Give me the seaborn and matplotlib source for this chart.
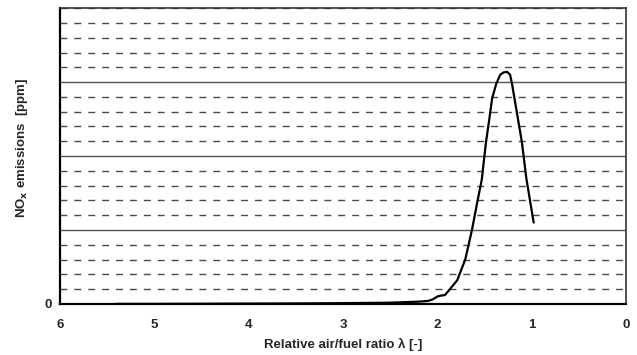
import matplotlib
matplotlib.use("Agg")
import matplotlib.pyplot as plt
from matplotlib.ticker import MultipleLocator, FixedFormatter, FixedLocator
import seaborn as sns
import pandas as pd

# relative air/fuel ratio (lambda) and NOx emissions in ppm
lam = [5.4, 5.0, 4.5, 4.0, 3.5, 3.0, 2.5, 2.2, 2.1, 2.05, 2.0, 1.97, 1.92, 1.88,
       1.79, 1.705, 1.634, 1.58, 1.53, 1.486, 1.45, 1.42, 1.376, 1.334, 1.3,
       1.263, 1.23, 1.21, 1.157, 1.104, 1.058, 0.98]
nox = [0, 0, 2, 4, 6, 10, 16, 30, 40, 60, 100, 110, 120, 180,
       320, 600, 1000, 1360, 1680, 2180, 2500, 2780, 2980, 3100, 3130,
       3140, 3100, 2980, 2580, 2180, 1700, 1100]

x_ticks = [6, 5, 4, 3, 2, 1, 0]

data = pd.DataFrame({"lambda": lam, "NOx": nox})

sns.set_style("white")
plt.rcParams["font.family"] = ["Liberation Sans", "DejaVu Sans"]
plt.rcParams["font.weight"] = "bold"

fig = plt.figure(figsize=(6.37, 3.55), dpi=100)
ax = fig.add_axes([0.094, 0.144, 0.889, 0.833])

sns.lineplot(x="lambda", y="NOx", data=data, color="black", linewidth=1.6, ax=ax)

ax.set_xlim(6, 0)
ax.set_ylim(0, 4000)
ax.set_xticks(x_ticks)
ax.set_xticklabels([str(t) for t in x_ticks], fontsize=9.5, fontweight="bold")

ax.yaxis.set_major_locator(FixedLocator([0, 1000, 2000, 3000]))
ax.yaxis.set_major_formatter(FixedFormatter(["0", "", "", ""]))
ax.yaxis.set_minor_locator(MultipleLocator(200))
ax.grid(True, which="major", axis="y", color="#555555", linewidth=1.0, linestyle="-")
ax.grid(True, which="minor", axis="y", color="#4a4a4a", linewidth=1.0,
        linestyle=(0, (5, 5)))
ax.grid(False, axis="x")
ax.tick_params(axis="y", which="both", length=0, labelsize=9.5, pad=6)
ax.tick_params(axis="x", length=3, width=1, direction="out", labelsize=9.5, pad=8,
               color="black")

for side in ["left", "bottom"]:
    ax.spines[side].set_linewidth(1.6)
    ax.spines[side].set_color("black")
for side in ["top", "right"]:
    ax.spines[side].set_linewidth(1.2)
    ax.spines[side].set_color("#333333")

ax.set_xlabel("Relative air/fuel ratio λ [-]", fontsize=9.5, fontweight="bold", labelpad=5)
ax.set_ylabel("NO$_\\mathbf{x}$ emissions  [ppm]", fontsize=9.5, fontweight="bold")
ax.yaxis.set_label_coords(-0.052, 0.527)

fig.savefig("out.png", dpi=100)
